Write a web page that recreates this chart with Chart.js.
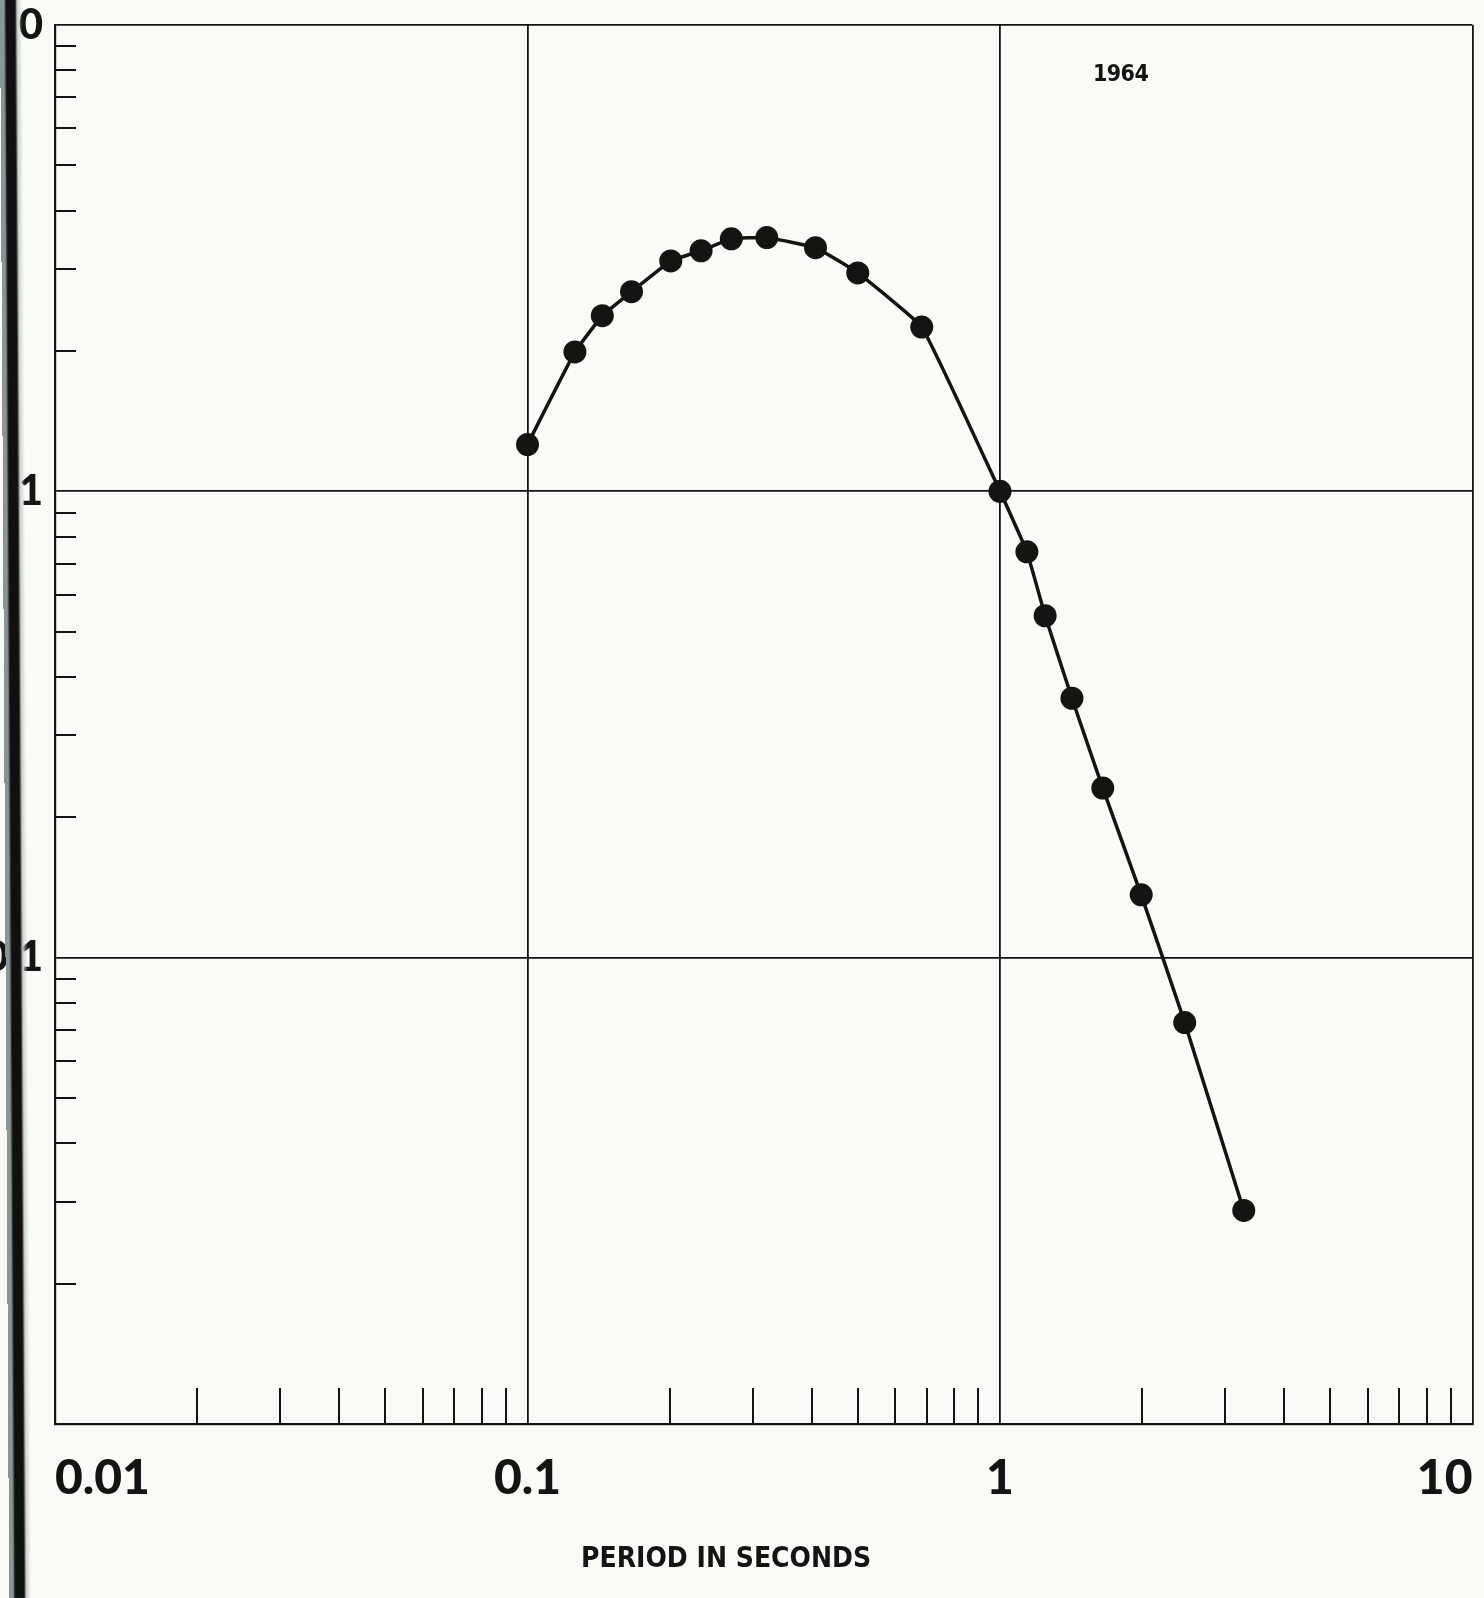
<!DOCTYPE html>
<html>
<head>
<meta charset="utf-8">
<title>Period in seconds - 1964</title>
<script src="https://cdn.jsdelivr.net/npm/chart.js@4.4.1/dist/chart.umd.min.js"></script>
<style>
  body { margin: 0; background: #fafaf7; }
  #wrap { position: relative; width: 1484px; height: 1598px; overflow: hidden; }
  #chart { position: absolute; left: 0; top: 0; }
  /* page binding shadow at the left edge of the scan */
  #binding {
    position: absolute; left: 0; top: 0; width: 24px; height: 1598px;
    background: linear-gradient(to right, #8a9696 0, #8a9696 4px, #101010 6px, #101010 15px, #c9cdcd 17px, rgba(250,250,247,0) 22px);
    transform: skewX(0.33deg); transform-origin: top left;
  }
  .note { position: absolute; color: #141414; font-family: "DejaVu Sans Condensed", "Liberation Sans Narrow", sans-serif; font-weight: bold; line-height: 1; white-space: nowrap; }
  #year { left: 1093px; top: 62px; font-size: 23px; letter-spacing: -0.6px; }
  #xtitle { left: 581px; top: 1544px; font-size: 28px; letter-spacing: 0; }
</style>
</head>
<body>
<div id="wrap">
  <canvas id="chart" width="1484" height="1598"></canvas>
  <div id="binding"></div>
  <div class="note" id="year">1964</div>
  <div class="note" id="xtitle">PERIOD IN SECONDS</div>
</div>
<script>
// values (log-log)
const periods = [0.1, 0.126, 0.144, 0.166, 0.201, 0.233, 0.27, 0.321, 0.407, 0.50, 0.683,
                 1.0, 1.14, 1.246, 1.42, 1.65, 1.99, 2.46, 3.28];
const ratios  = [1.26, 1.99, 2.38, 2.68, 3.12, 3.28, 3.48, 3.50, 3.33, 2.94, 2.25,
                 1.0, 0.742, 0.541, 0.360, 0.231, 0.1364, 0.0726, 0.0287];

const xLabelValues = [0.01, 0.1, 1, 10];
const xLabelTexts  = ['0.01', '0.1', '1', '10'];
const yLabelValues = [10, 1, 0.1];
const yLabelTexts  = ['10', '1', '0.1'];

const ink = '#141414';

// 1..9 marks in every decade
function logTicks(min, max) {
    const out = [];
    for (let d = min; d < max * 0.999; d *= 10) {
        for (let m = 1; m < 10; m++) out.push(+(d * m).toPrecision(3));
    }
    out.push(max);
    return out;
}
const xTickValues = logTicks(0.01, 10);
const yTickValues = logTicks(0.01, 10);

function isMajor(v) {
    const l = Math.log10(v);
    return Math.abs(l - Math.round(l)) < 1e-6;
}

function labelFor(value, values, texts) {
    const i = values.findIndex(v => Math.abs(v - value) / v < 1e-6);
    return i >= 0 ? texts[i] : '';
}

// short inward tick marks for the minor values
const minorTicks = {
    id: 'minorTicks',
    beforeDatasetsDraw(chart) {
        const { ctx, chartArea, scales } = chart;
        ctx.save();
        ctx.strokeStyle = ink;
        ctx.lineWidth = 2;
        ctx.beginPath();
        scales.x.ticks.forEach(t => {
            if (isMajor(t.value)) return;
            const px = Math.round(scales.x.getPixelForValue(t.value));
            ctx.moveTo(px, chartArea.bottom);
            ctx.lineTo(px, chartArea.bottom - 36);
        });
        scales.y.ticks.forEach(t => {
            if (isMajor(t.value)) return;
            const py = Math.round(scales.y.getPixelForValue(t.value));
            ctx.moveTo(chartArea.left, py);
            ctx.lineTo(chartArea.left + 21, py);
        });
        ctx.stroke();
        ctx.restore();
    }
};

const gridOpts = {
    drawTicks: false,
    color: c => (c.tick && isMajor(c.tick.value)) ? ink : 'rgba(0,0,0,0)',
    lineWidth: c => (c.tick && isMajor(c.tick.value)) ? 1.8 : 0
};

// keep the plot frame where the original has it (no label overhang padding)
function noOverhang(s) {
    s.paddingLeft = 0; s.paddingRight = 0; s.paddingTop = 0; s.paddingBottom = 0;
}

const ctx = document.getElementById('chart').getContext('2d');
new Chart(ctx, {
    type: 'line',
    data: {
        datasets: [{
            data: periods.map((p, i) => ({ x: p, y: ratios[i] })),
            borderColor: ink,
            borderWidth: 3.5,
            backgroundColor: ink,
            pointBackgroundColor: ink,
            pointBorderWidth: 0,
            pointRadius: 11.5,
            tension: 0.1
        }]
    },
    options: {
        responsive: false,
        animation: false,
        layout: { padding: { top: 25, right: 3, left: 0, bottom: 0 } },
        plugins: { legend: { display: false }, tooltip: { enabled: false } },
        scales: {
            x: {
                type: 'logarithmic',
                min: 0.01,
                max: 10,
                afterBuildTicks: s => { s.ticks = xTickValues.map(v => ({ value: v })); },
                afterFit: s => { s.height = 174; noOverhang(s); },
                grid: gridOpts,
                border: { display: true, color: ink, width: 2.2 },
                ticks: {
                    autoSkip: false,
                    maxRotation: 0,
                    align: 'inner',
                    padding: 26,
                    color: ink,
                    font: { family: 'Lato', weight: '900', size: 48 },
                    callback: v => labelFor(v, xLabelValues, xLabelTexts)
                }
            },
            y: {
                type: 'logarithmic',
                min: 0.01,
                max: 10,
                afterBuildTicks: s => { s.ticks = yTickValues.map(v => ({ value: v })); },
                afterFit: s => { s.width = 55; noOverhang(s); },
                grid: gridOpts,
                border: { display: true, color: ink, width: 2.2 },
                ticks: {
                    autoSkip: false,
                    padding: 12,
                    color: ink,
                    font: { family: 'Lato', weight: '900', size: 42 },
                    callback: v => labelFor(v, yLabelValues, yLabelTexts)
                }
            }
        }
    },
    plugins: [minorTicks]
});
</script>
</body>
</html>
